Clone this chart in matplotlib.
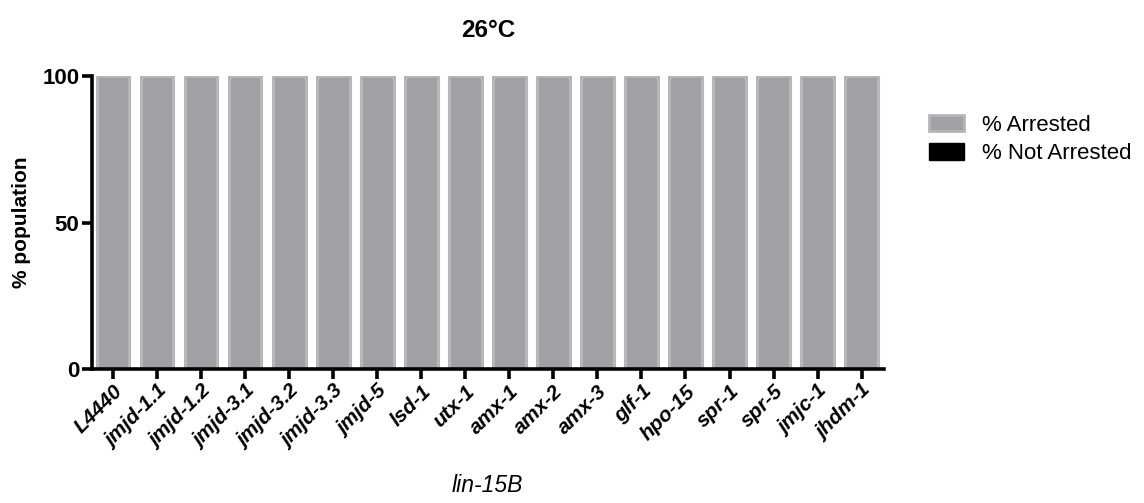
import matplotlib.pyplot as plt
from matplotlib.patches import Patch
import numpy as np

plt.rcParams['font.family'] = ['Liberation Sans', 'DejaVu Sans']

genes = ['L4440', 'jmjd-1.1', 'jmjd-1.2', 'jmjd-3.1', 'jmjd-3.2', 'jmjd-3.3',
         'jmjd-5', 'lsd-1', 'utx-1', 'amx-1', 'amx-2', 'amx-3', 'glf-1',
         'hpo-15', 'spr-1', 'spr-5', 'jmjc-1', 'jhdm-1']
arrested = [100, 100, 100, 100, 100, 100, 100, 100, 100,
            100, 100, 100, 100, 100, 100, 100, 100, 100]
not_arrested = [0, 0, 0, 0, 0, 0, 0, 0, 0, 0, 0, 0, 0, 0, 0, 0, 0, 0]

fig = plt.figure(figsize=(11.44, 5.03), dpi=100)
ax = fig.add_axes([0.0804, 0.266, 0.692, 0.583])

x = np.arange(len(genes))
ax.bar(x, arrested, width=0.74, color='#a1a1a5', edgecolor='#b6b6b8',
       linewidth=2.2, zorder=2)
ax.bar(x, not_arrested, bottom=arrested, width=0.74, color='black',
       edgecolor='black', linewidth=0, zorder=2)

ax.set_xlim(-0.48, len(genes) - 0.5)
ax.set_ylim(0, 100)
ax.set_yticks([0, 50, 100])
ax.set_yticklabels(['0', '50', '100'], fontsize=16, fontweight='bold')
ax.set_xticks(x)
ax.set_xticklabels(genes, rotation=45, ha='right', rotation_mode='anchor',
                   fontsize=15, fontweight='bold', style='italic')

for s in ['top', 'right']:
    ax.spines[s].set_visible(False)
for s in ['left', 'bottom']:
    ax.spines[s].set_linewidth(2.6)
ax.tick_params(axis='both', width=2.6, length=7.5, direction='out', pad=1.5)

ax.set_ylabel('% population', fontsize=15, fontweight='bold', labelpad=8)
ax.set_xlabel('lin-15B', fontsize=16.5, style='italic', labelpad=17)
ax.set_title('26°C', fontsize=17.5, fontweight='bold', pad=28)

handles = [Patch(facecolor='#a1a1a5', edgecolor='#b6b6b8', linewidth=2),
           Patch(facecolor='black', edgecolor='black')]
fig.legend(handles, ['% Arrested', '% Not Arrested'], loc='upper left',
           bbox_to_anchor=(0.795, 0.812), frameon=False, fontsize=16,
           handlelength=1.55, handleheight=0.75, labelspacing=0.35,
           handletextpad=0.8)

fig.savefig('out.png', dpi=100)
